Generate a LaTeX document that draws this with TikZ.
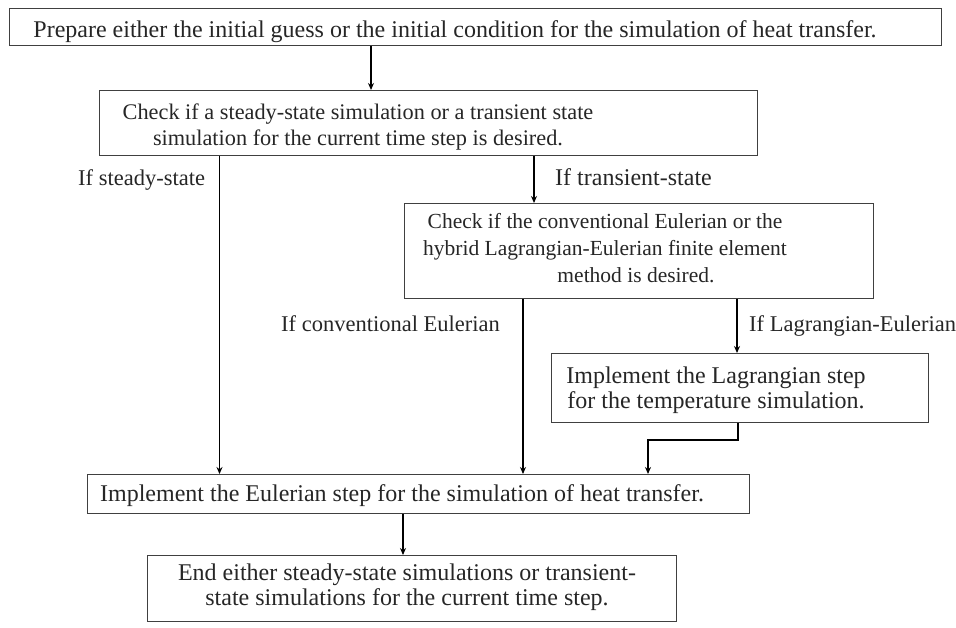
\documentclass[tikz,border=0pt]{standalone}
\usepackage{fontspec}
\setmainfont{Liberation Serif}
\usetikzlibrary{arrows.meta}
\begin{document}
\begin{tikzpicture}[x=1pt,y=-1pt,
  box/.style={draw=black!75, line width=1pt, inner sep=0pt, anchor=north west},
  txt/.style={text=black!85, inner sep=0pt, font=\fontsize{24}{25.5}\selectfont, align=center},
  lbl/.style={text=black!85, inner sep=0pt, font=\fontsize{22.5}{25}\selectfont, anchor=base west},
  arr/.style={line width=1.8pt, -{Stealth[length=7pt,width=6pt]}}
]
\useasboundingbox (0,0) rectangle (956,627);
% boxes
\node[box, minimum width=932pt, minimum height=37pt] (b1) at (9,8) {};
\node[box, minimum width=658pt, minimum height=65pt] (b2) at (99,90) {};
\node[box, minimum width=469pt, minimum height=95pt] (b3) at (404,203) {};
\node[box, minimum width=377pt, minimum height=69pt] (b5) at (551,353) {};
\node[box, minimum width=662pt, minimum height=39pt] (b4) at (87,474) {};
\node[box, minimum width=529pt, minimum height=66pt] (b6) at (147,555) {};
% texts
\node[txt, anchor=base] (t1) at (455,37) {Prepare either the initial guess or the initial condition for the simulation of heat transfer.};
\node[txt, font=\fontsize{22.3}{26}\selectfont] (t2) at (358,127) {Check if a steady-state simulation or a transient state\\simulation for the current time step is desired.};
\node[txt, font=\fontsize{21.5}{27}\selectfont] (t3) at (605,248) {Check if the conventional Eulerian or the\\hybrid Lagrangian-Eulerian finite element\\\hspace*{62pt}method is desired.};
\node[txt] (t5) at (716,390) {Implement the Lagrangian step\\for the temperature simulation.};
\node[txt, anchor=base] (t4) at (402,501) {Implement the Eulerian step for the simulation of heat transfer.};
\node[txt] (t6) at (407,587) {End either steady-state simulations or transient-\\state simulations for the current time step.};
% labels
\node[lbl] (l1) at (78,185) {If steady-state};
\node[lbl, font=\fontsize{24}{25}\selectfont] (l2) at (555,185) {If transient-state};
\node[lbl] (l3) at (281,331) {If conventional Eulerian};
\node[lbl] (l4) at (749,331) {If Lagrangian-Eulerian};
% connector x positions
\coordinate (xa) at (371,0);
\coordinate (xs) at (219.5,0);
\coordinate (xt) at (534,0);
\coordinate (xc) at (523,0);
\coordinate (xl) at (737,0);
\coordinate (xm) at (738,440);
\coordinate (xn) at (648,440);
\coordinate (xe) at (403,0);
% connectors
\draw[arr] (b1.south -| xa) -- (b2.north -| xa);
\draw[arr] (b2.south -| xs) -- (b4.north -| xs);
\draw[arr] (b2.south -| xt) -- (b3.north -| xt);
\draw[arr] (b3.south -| xc) -- (b4.north -| xc);
\draw[arr] (b3.south -| xl) -- (b5.north -| xl);
\draw[arr] (b5.south -| xm) -- (xm) -- (xn) -- (b4.north -| xn);
\draw[arr] (b4.south -| xe) -- (b6.north -| xe);
\end{tikzpicture}
\end{document}
